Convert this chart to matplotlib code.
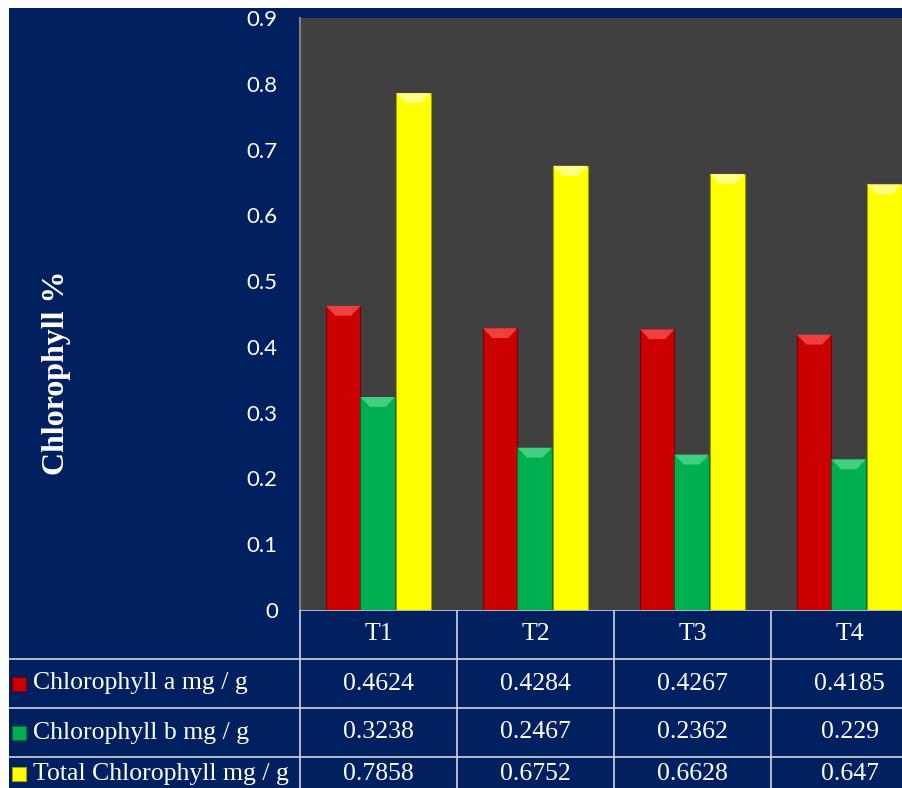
import matplotlib
matplotlib.use("Agg")
import matplotlib.pyplot as plt
from matplotlib.patches import Rectangle, Polygon
import numpy as np

# Данные
treatments = ["T1", "T2", "T3", "T4"]
series_names = ["Chlorophyll a mg / g", "Chlorophyll b mg / g", "Total Chlorophyll mg / g"]
chl_a = [0.4624, 0.4284, 0.4267, 0.4185]
chl_b = [0.3238, 0.2467, 0.2362, 0.229]
chl_total = [0.7858, 0.6752, 0.6628, 0.647]
yticks = [0, 0.1, 0.2, 0.3, 0.4, 0.5, 0.6, 0.7, 0.8, 0.9]

navy = "#002060"
plot_bg = "#404040"
line_col = "#d0d4dc"
colors = ["#cc0000", "#00b050", "#ffff00"]
edges = ["#7a0000", "#006b30", "#a0a000"]
tops = ["#ee4040", "#40d080", "#ffff80"]

W, H = 902, 788
fig = plt.figure(figsize=(W / 100, H / 100), dpi=100, facecolor="white")

# Тёмно-синий фон (слева и сверху белая полоска)
fig.patches.append(Rectangle((9 / W, 0), 1, (H - 8) / H, transform=fig.transFigure,
                             facecolor=navy, edgecolor="none", zorder=-5))

# Область графика
cat_px = 157
ax = fig.add_axes([300 / W, (H - 610) / H, 4 * cat_px / W, 592 / H])
ax.set_facecolor(plot_bg)
ax.set_xlim(-0.5, 3.5)
ax.set_ylim(0, 0.9)
ax.set_xticks([])
ax.set_yticks(yticks)
ax.set_yticklabels([f"{v:g}" for v in yticks], fontsize=16, family="Lato", color="white")
ax.tick_params(axis="y", length=0, pad=16)
for s in ["top", "right", "bottom"]:
    ax.spines[s].set_visible(False)
ax.spines["left"].set_color("#7f7f7f")
ax.spines["left"].set_linewidth(1.5)

x = np.arange(len(treatments))
width = 0.22
offsets = [-0.225, -0.005, 0.222]
bevel_h = 0.015
bevel_in = 0.06
for vals, off, c, e, t in zip([chl_a, chl_b, chl_total], offsets, colors, edges, tops):
    bars = ax.bar(x + off, vals, width, color=c, edgecolor=e, linewidth=0.8, zorder=2)
    # светлая фаска сверху
    for b in bars:
        x0 = b.get_x()
        x1 = x0 + b.get_width()
        h = b.get_height()
        ax.add_patch(Polygon([(x0, h), (x1, h), (x1 - bevel_in, h - bevel_h), (x0 + bevel_in, h - bevel_h)],
                             closed=True, facecolor=t, edgecolor="none", zorder=3))

# Подпись оси Y
fig.text(57 / W, 1 - 373 / H, "Chlorophyll %", rotation=90, fontsize=23, fontweight="bold",
         family="Liberation Serif", color="white", ha="center", va="center")

# Таблица данных
left_units = 291 / cat_px
tab = fig.add_axes([9 / W, (H - 806) / H, (4 * cat_px + 291) / W, 196 / H])
tab.set_xlim(-0.5 - left_units, 3.5)
tab.set_ylim(4, 0)
tab.axis("off")
tab.patch.set_visible(False)
xl = -0.5 - left_units

tab.hlines(0, -0.5, 3.5, color=line_col, linewidth=1.2)
tab.hlines([1, 2, 3], xl, 3.5, color=line_col, linewidth=1.2)
tab.vlines([-0.5, 0.5, 1.5, 2.5], 0, 4, color=line_col, linewidth=1.2)

fs = 18.5
for i, t in enumerate(treatments):
    tab.text(i, 0.5, t, fontsize=fs, family="Liberation Serif", color="white", ha="center", va="center")

# последняя строка обрезана снизу, текст чуть выше центра
row_y = [1.5, 2.5, 3.34]
for r, (name, vals, c, e) in enumerate(zip(series_names, [chl_a, chl_b, chl_total], colors, edges)):
    yc = row_y[r]
    tab.scatter([xl + 9.5 / cat_px], [yc], marker="s", s=100, color=c, edgecolors=e, linewidths=0.8)
    tab.text(xl + 24 / cat_px, yc, name, fontsize=fs, family="Liberation Serif", color="white",
             ha="left", va="center")
    for i, v in enumerate(vals):
        tab.text(i, yc, f"{v:g}", fontsize=fs, family="Liberation Serif", color="white",
                 ha="center", va="center")

fig.savefig("out.png", dpi=100, facecolor=fig.get_facecolor())
